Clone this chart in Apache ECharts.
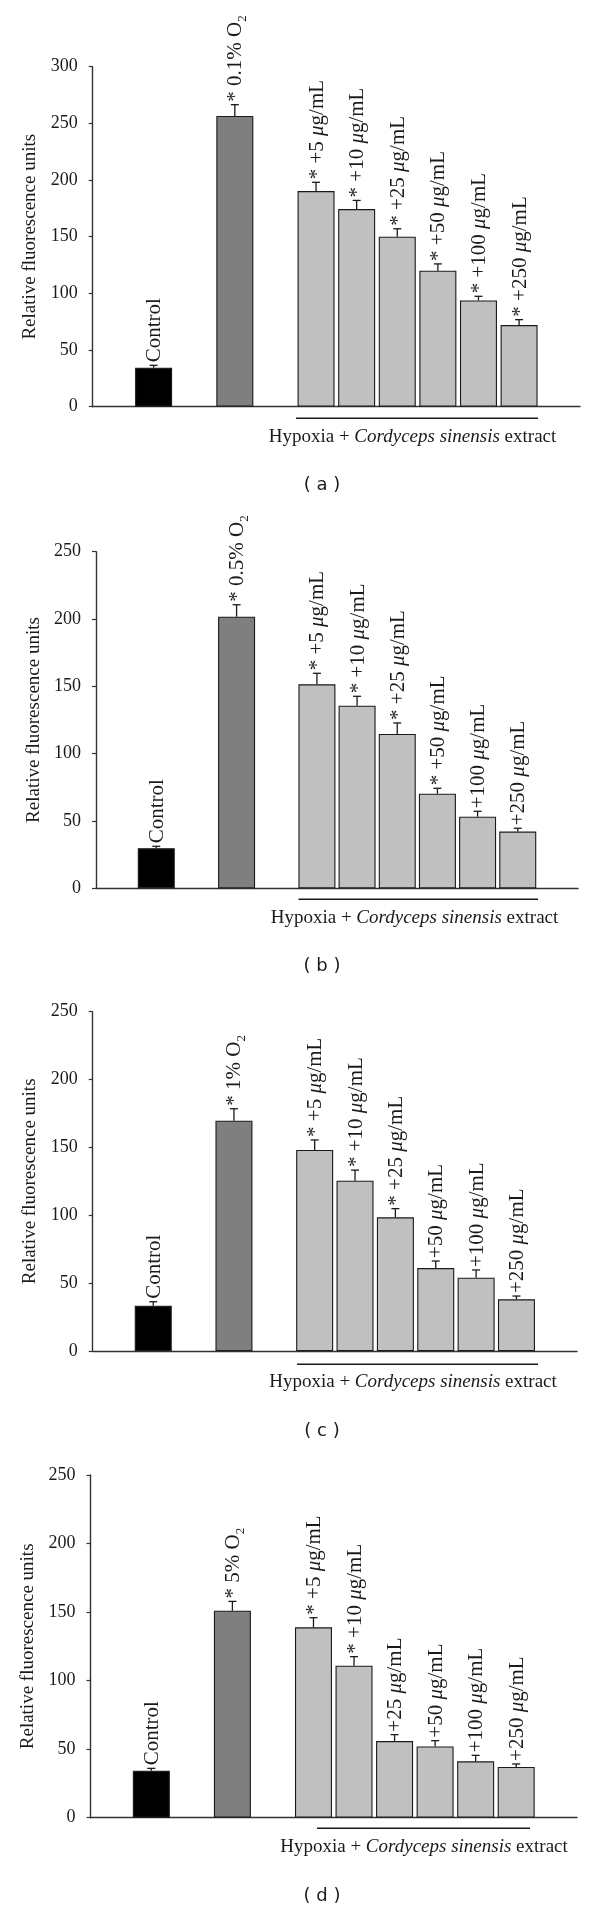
<!DOCTYPE html>
<html><head><meta charset="utf-8">
<script src="https://cdn.jsdelivr.net/npm/echarts@6/dist/echarts.min.js"></script>
<style>html,body{margin:0;padding:0;background:#fff}#chart{width:600px;height:1911px}</style>
</head><body><div id="chart"></div>
<script>
// ---- data ----
const categories = ['', 'Control', '', 'Hypoxia', '', '+5', '+10', '+25', '+50', '+100', '+250', ''];
const barSlots = [1, 3, 5, 6, 7, 8, 9, 10];
const groupLabels = ['Control', 'O2', '+5', '+10', '+25', '+50', '+100', '+250'];
const o2Levels = ['0.1%', '0.5%', '1%', '5%'];
const panelTags = ['( a )', '( b )', '( c )', '( d )'];
const yMax = [300, 250, 250, 250];
const yInterval = 50;

const valuesA = [34.4, 256.5, 190.3, 174.4, 150.0, 120.0, 93.8, 72.0];
const errorsA = [2.1, 10.0, 7.7, 7.6, 7.0, 6.0, 3.6, 4.8];
const starsA  = [0, 1, 1, 1, 1, 1, 1, 1];

const valuesB = [29.7, 201.7, 151.5, 135.6, 114.6, 70.3, 53.2, 42.1];
const errorsB = [1.5, 8.9, 8.2, 7.0, 8.2, 4.0, 4.0, 2.5];
const starsB  = [0, 1, 1, 1, 1, 1, 0, 0];

const valuesC = [33.4, 169.7, 148.1, 125.5, 98.5, 61.1, 54.0, 38.1];
const errorsC = [2.9, 8.8, 7.4, 7.8, 6.4, 5.2, 5.7, 2.4];
const starsC  = [0, 1, 1, 1, 1, 0, 0, 0];

const valuesD = [34.3, 151.0, 138.9, 110.9, 55.9, 52.0, 41.1, 37.0];
const errorsD = [1.7, 6.8, 7.0, 6.6, 4.7, 4.2, 4.4, 2.2];
const starsD  = [0, 1, 1, 1, 0, 0, 0, 0];

const panels = [
  {values: valuesA, errors: errorsA, stars: starsA},
  {values: valuesB, errors: errorsB, stars: starsB},
  {values: valuesC, errors: errorsC, stars: starsC},
  {values: valuesD, errors: errorsD, stars: starsD}
];

// ---- styles / layout ----
const SERIF = "'Liberation Serif', 'Times New Roman', serif";
const INK = '#1a1a1a';
const barColors = ['#000000', '#7f7f7f', '#c0c0c0', '#c0c0c0', '#c0c0c0', '#c0c0c0', '#c0c0c0', '#c0c0c0'];
const grids = [
  {left: 92.7, top: 66.7, width: 487.3, height: 340},
  {left: 96, top: 551.7, width: 482, height: 336.6},
  {left: 92.7, top: 1011.7, width: 484.3, height: 339.3},
  {left: 90.5, top: 1475, width: 486.5, height: 342.7}
];
const brackets = [
  {x1: 296, x2: 538, y: 418.3, tx: 412.5, ty: 437, tagY: 485},
  {x1: 298.5, x2: 538, y: 899.3, tx: 414.5, ty: 918, tagY: 966},
  {x1: 297, x2: 538, y: 1364.3, tx: 413, ty: 1382, tagY: 1431},
  {x1: 317, x2: 530, y: 1828.3, tx: 424, ty: 1847, tagY: 1896}
];
const tagX = 322;

const richBottom = {
  n: {fontFamily: SERIF, fontSize: 19, fill: INK},
  i: {fontFamily: SERIF, fontSize: 19, fontStyle: 'italic', fill: INK}
};
const LBL = 21;
const richLabel = {
  n: {fontFamily: SERIF, fontSize: LBL, fill: INK},
  i: {fontFamily: SERIF, fontSize: LBL, fontStyle: 'italic', fill: INK},
  s: {fontFamily: SERIF, fontSize: 13, fill: INK, verticalAlign: 'bottom', padding: [0, 0, -3, 0]}
};

function labelRich(p, k) {
  const star = panels[p].stars[k] ? '* ' : '';
  if (k === 0) return '{n|Control}';
  if (k === 1) return '{n|' + star + o2Levels[p] + ' O}{s|2}';
  return '{n|' + star + groupLabels[k] + ' }{i|μ}{n|g/mL}';
}

const option = {
  animation: false,
  backgroundColor: '#fff',
  grid: grids.map(g => Object.assign({containLabel: false}, g)),
  xAxis: grids.map((g, p) => ({
    type: 'category', gridIndex: p, data: categories, boundaryGap: true,
    axisLine: {show: true, lineStyle: {color: '#333', width: 1.4}},
    axisTick: {show: false}, axisLabel: {show: false}, splitLine: {show: false}
  })),
  yAxis: grids.map((g, p) => ({
    type: 'value', gridIndex: p, min: 0, max: yMax[p], interval: yInterval,
    name: 'Relative fluorescence units', nameLocation: 'middle', nameGap: 49,
    nameTextStyle: {fontFamily: SERIF, fontSize: 19, color: INK},
    axisLine: {show: true, lineStyle: {color: '#333', width: 1.4}},
    axisTick: {show: true, inside: false, length: 4, lineStyle: {color: '#333', width: 1.2}},
    axisLabel: {fontFamily: SERIF, fontSize: 18, color: INK, margin: 15},
    splitLine: {show: false}
  })),
  series: [],
  graphic: []
};

panels.forEach((pd, p) => {
  const barData = categories.map(() => '-');
  barSlots.forEach((slot, k) => {
    barData[slot] = {value: pd.values[k], itemStyle: {color: barColors[k]}};
  });
  option.series.push({
    type: 'bar', xAxisIndex: p, yAxisIndex: p, data: barData, barWidth: 37,
    itemStyle: {borderColor: INK, borderWidth: 1.1}, silent: true, z: 2
  });
  const errData = barSlots.map((slot, k) => [slot, pd.values[k], pd.errors[k], k]);
  option.series.push({
    type: 'custom', xAxisIndex: p, yAxisIndex: p, data: errData, z: 5, silent: true,
    renderItem: function (params, api) {
      const ci = api.value(0), v = api.value(1), e = api.value(2), k = api.value(3);
      const p0 = api.coord([ci, v]);
      const p1 = api.coord([ci, v + e]);
      const x = p0[0];
      return {
        type: 'group',
        children: [
          {type: 'line', shape: {x1: x, y1: p0[1], x2: x, y2: p1[1]}, style: {stroke: INK, lineWidth: 1.3}},
          {type: 'line', shape: {x1: x - 4, y1: p1[1], x2: x + 4, y2: p1[1]}, style: {stroke: INK, lineWidth: 1.3}},
          {type: 'text', x: x + 1, y: p1[1] - 3, rotation: Math.PI / 2,
           style: {text: labelRich(p, k), rich: richLabel, align: 'left', verticalAlign: 'middle',
                   fontFamily: SERIF, fontSize: LBL, fill: INK}}
        ]
      };
    }
  });
  const b = brackets[p];
  option.graphic.push(
    {type: 'line', shape: {x1: b.x1, y1: b.y, x2: b.x2, y2: b.y}, style: {stroke: INK, lineWidth: 1.4}},
    {type: 'text', x: b.tx, y: b.ty,
     style: {text: '{n|Hypoxia + }{i|Cordyceps sinensis}{n| extract}', rich: richBottom,
             align: 'center', verticalAlign: 'middle', fontFamily: SERIF, fontSize: 19, fill: INK}},
    {type: 'text', x: tagX, y: b.tagY,
     style: {text: panelTags[p], align: 'center', verticalAlign: 'middle',
             fontFamily: "'DejaVu Sans', sans-serif", fontSize: 18, fill: INK}}
  );
});

const chart = echarts.init(document.getElementById('chart'), null, {renderer: 'canvas'});
chart.setOption(option);
</script>
</body></html>
